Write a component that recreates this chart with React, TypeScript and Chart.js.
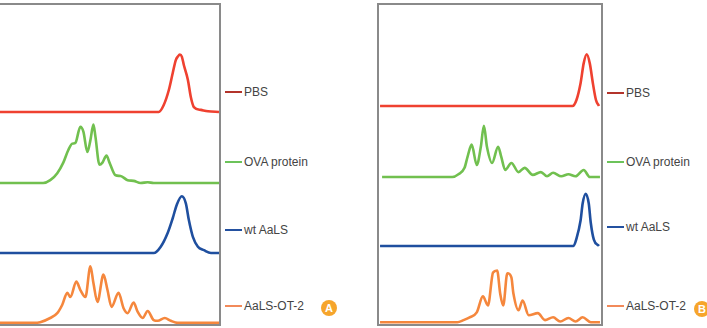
import { useEffect, useRef } from "react";
import { Chart, registerables } from "chart.js";

Chart.register(...registerables);

type Pt = [number, number];

// Sample groups, top to bottom in each panel
const GROUPS = ["PBS", "OVA protein", "wt AaLS", "AaLS-OT-2"];
const LINE_COLORS = ["#ef4130", "#71c04f", "#1f4f9f", "#f5873d"];
const KEY_COLORS = ["#b3342b", "#6cc35a", "#2451a0", "#f28a5a"];

// Fluorescence channel range (x axis, not drawn)
const X_MAX = 220;

// Panel A histograms: [channel, cell count]
const PBS_A: Pt[] = [
  [0, 0], [159, 0], [164, 10], [169, 31], [173, 56], [176, 74], [178, 79], [180, 82],
  [182, 79], [184, 67], [188, 46], [191, 21], [194, 7], [201, 3], [208, 1], [219, 0],
];
const OVA_A: Pt[] = [
  [0, 0], [44, 0], [51, 4], [58, 14], [64, 29], [69, 47], [73, 56], [76, 57], [81, 80],
  [84, 73], [88, 44], [91, 61], [94, 83], [96, 66], [100, 26], [103, 29], [107, 39],
  [110, 29], [116, 11], [121, 10], [128, 4], [134, 3], [141, 0], [148, 1], [154, 0], [219, 0],
];
const WT_A: Pt[] = [
  [0, 0], [154, 0], [161, 9], [168, 29], [173, 50], [177, 69], [182, 81], [186, 71],
  [189, 47], [193, 23], [198, 9], [204, 4], [211, 0], [219, 0],
];
const OT2_A: Pt[] = [
  [0, 0], [35, 0], [41, 1], [51, 7], [58, 14], [63, 26], [68, 43], [71, 37], [77, 59],
  [81, 47], [86, 37], [91, 81], [94, 57], [98, 30], [104, 69], [108, 47], [112, 23],
  [119, 43], [124, 21], [128, 14], [134, 29], [138, 16], [143, 7], [148, 17], [154, 4],
  [158, 3], [165, 7], [171, 3], [178, 0], [219, 0],
];

// Panel B histograms: [channel, cell count]
const PBS_B: Pt[] = [
  [2, 0], [191, 0], [195, 9], [199, 33], [202, 61], [205, 74], [208, 61], [211, 33],
  [214, 9], [217, 0],
];
const OVA_B: Pt[] = [
  [4, 0], [73, 0], [79, 4], [85, 13], [88, 29], [92, 46], [97, 17], [101, 43], [104, 73],
  [107, 43], [112, 20], [118, 43], [121, 29], [125, 10], [131, 20], [138, 7], [144, 13],
  [152, 3], [160, 7], [166, 1], [172, 6], [180, 1], [187, 4], [194, 1], [202, 10],
  [208, 0], [218, 0],
];
const WT_B: Pt[] = [
  [2, 0], [192, 0], [195, 11], [199, 37], [201, 61], [204, 75], [207, 61], [209, 33],
  [212, 9], [217, 0],
];
const OT2_B: Pt[] = [
  [2, 0], [78, 0], [84, 3], [90, 7], [97, 14], [103, 37], [108, 24], [113, 71], [117, 74],
  [120, 41], [123, 24], [127, 70], [131, 64], [133, 41], [138, 17], [142, 31], [148, 10],
  [157, 13], [164, 3], [172, 7], [179, 1], [187, 6], [194, 1], [201, 7], [209, 0], [218, 0],
];

type Band = { weight: number; min: number; max: number };

type PanelSpec = {
  series: Pt[][];
  bands: Band[];
  canvasLeft: number;
  canvasWidth: number;
  padLeft: number;
  padRight: number;
  keyLeft: number;
  keyRows: number[];
  badge: string;
  badgeX: number;
  badgeY: number;
};

const PANELS: PanelSpec[] = [
  {
    series: [PBS_A, OVA_A, WT_A, OT2_A],
    bands: [
      { weight: 108, min: 0, max: 154 },
      { weight: 71, min: 0, max: 101 },
      { weight: 70, min: 0, max: 100 },
      { weight: 72, min: -3, max: 100 },
    ],
    canvasLeft: -4,
    canvasWidth: 226,
    padLeft: 3,
    padRight: 2,
    keyLeft: 225,
    keyRows: [92, 162, 230, 306],
    badge: "A",
    badgeX: 329,
    badgeY: 308,
  },
  {
    series: [PBS_B, OVA_B, WT_B, OT2_B],
    bands: [
      { weight: 102, min: 0, max: 146 },
      { weight: 71, min: 0, max: 101 },
      { weight: 69, min: 0, max: 99 },
      { weight: 79, min: -4, max: 109 },
    ],
    canvasLeft: 374,
    canvasWidth: 232,
    padLeft: 4,
    padRight: 4,
    keyLeft: 607,
    keyRows: [93, 162, 227, 306],
    badge: "B",
    badgeX: 702,
    badgeY: 309,
  },
];

// Grey box around the plotting area
const framePlugin = {
  id: "panelFrame",
  afterDatasetsDraw(chart: Chart) {
    const { ctx, chartArea } = chart;
    ctx.save();
    ctx.strokeStyle = "#8a8a8a";
    ctx.lineWidth = 2;
    ctx.strokeRect(
      chartArea.left,
      chartArea.top,
      chartArea.right - chartArea.left,
      chartArea.bottom - chartArea.top
    );
    ctx.restore();
  },
};

function HistogramPanel({ spec }: { spec: PanelSpec }) {
  const ref = useRef<HTMLCanvasElement>(null);

  useEffect(() => {
    if (!ref.current) return;
    const scales: any = {
      x: { type: "linear", min: 0, max: X_MAX, display: false },
    };
    spec.bands.forEach((b, i) => {
      scales["row" + i] = {
        type: "linear",
        position: "right",
        stack: "rows",
        stackWeight: b.weight,
        min: b.min,
        max: b.max,
        display: false,
      };
    });
    const chart = new Chart(ref.current, {
      type: "line",
      data: {
        datasets: spec.series.map((pts, i) => ({
          label: GROUPS[i],
          data: pts.map(([x, y]) => ({ x, y })),
          yAxisID: "row" + i,
          borderColor: LINE_COLORS[i],
          borderWidth: 2.6,
          pointRadius: 0,
          cubicInterpolationMode: "monotone" as const,
          fill: false,
          clip: false as const,
        })),
      },
      options: {
        animation: false,
        responsive: false,
        events: [],
        layout: {
          padding: { left: spec.padLeft, right: spec.padRight, top: 4, bottom: 3 },
        },
        plugins: { legend: { display: false }, tooltip: { enabled: false } },
        scales,
      },
      plugins: [framePlugin],
    });
    return () => chart.destroy();
  }, [spec]);

  return (
    <canvas
      ref={ref}
      width={spec.canvasWidth}
      height={328}
      style={{ position: "absolute", left: spec.canvasLeft, top: 0 }}
    />
  );
}

function Key({ spec }: { spec: PanelSpec }) {
  return (
    <>
      {GROUPS.map((g, i) => (
        <div
          key={g}
          style={{
            position: "absolute",
            left: spec.keyLeft,
            top: spec.keyRows[i] - 8,
            height: 16,
            display: "flex",
            alignItems: "center",
            whiteSpace: "nowrap",
          }}
        >
          <span
            style={{
              display: "inline-block",
              width: 17,
              height: 2.5,
              background: KEY_COLORS[i],
              marginRight: 2,
            }}
          />
          <span style={{ fontSize: 12, color: "#444", lineHeight: "16px" }}>{g}</span>
        </div>
      ))}
      <div
        style={{
          position: "absolute",
          left: spec.badgeX - 8,
          top: spec.badgeY - 8,
          width: 16,
          height: 16,
          borderRadius: "50%",
          background: "#f6a52c",
          color: "#fff",
          fontSize: 11,
          fontWeight: 700,
          lineHeight: "16px",
          textAlign: "center",
        }}
      >
        {spec.badge}
      </div>
    </>
  );
}

export default function App() {
  return (
    <div
      style={{
        position: "fixed",
        left: 0,
        top: 0,
        width: 707,
        height: 328,
        overflow: "hidden",
        background: "#fff",
        fontFamily: "'Liberation Sans', Arial, Helvetica, sans-serif",
      }}
    >
      {PANELS.map((p) => (
        <HistogramPanel key={p.badge} spec={p} />
      ))}
      {PANELS.map((p) => (
        <Key key={p.badge} spec={p} />
      ))}
    </div>
  );
}
